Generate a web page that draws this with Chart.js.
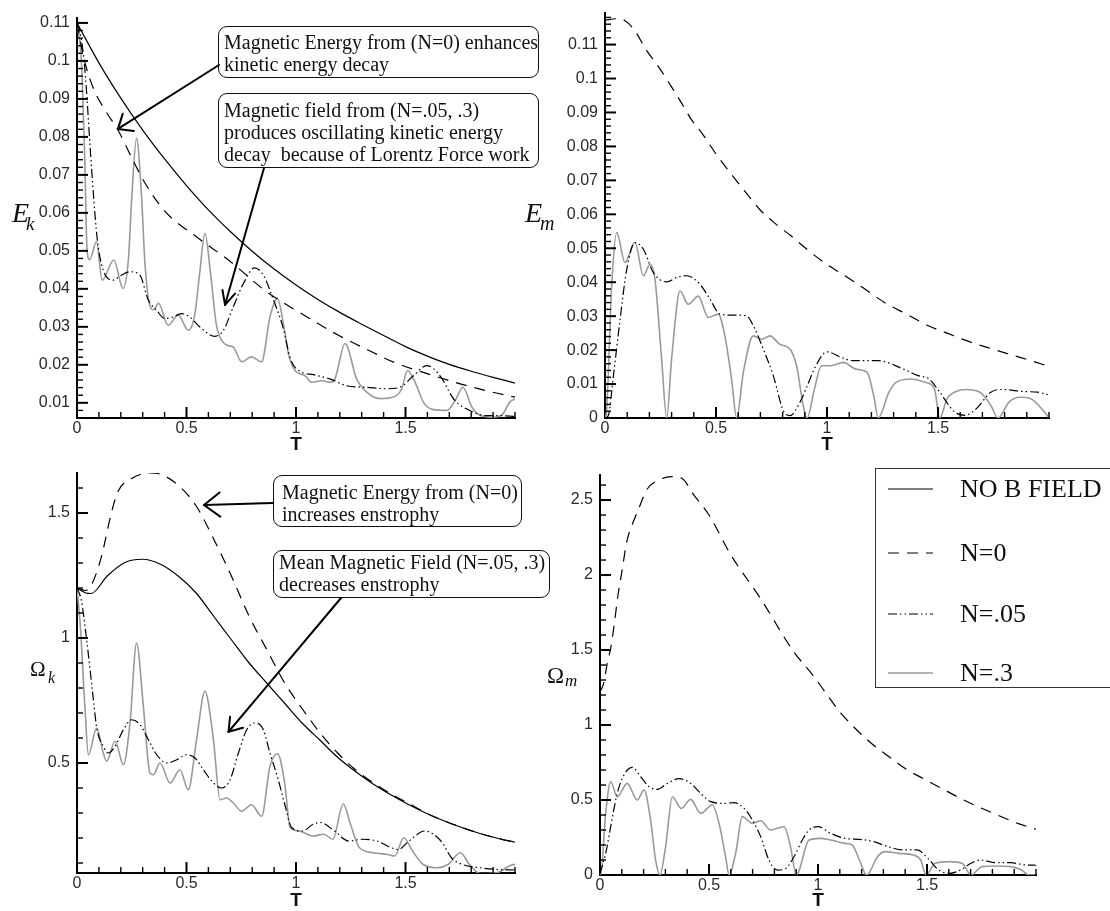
<!DOCTYPE html>
<html>
<head>
<meta charset="utf-8">
<script src="https://cdn.jsdelivr.net/npm/chart.js@4.4.0/dist/chart.umd.min.js"></script>
<style>
html, body { margin: 0; padding: 0; background: #fff; overflow: hidden; }
#page { position: relative; width: 1110px; height: 911px; overflow: hidden; }
.box { position: absolute; box-sizing: border-box; border: 1.5px solid #111; border-radius: 9px; background: #fff;
       font-family: "Liberation Serif", "Times New Roman", serif; font-size: 20px; line-height: 22px; color: #111; white-space: pre; }
.lab { position: absolute; font-family: "Liberation Serif", "Times New Roman", serif; color: #111; white-space: nowrap; line-height: 1; }
.tlab { position: absolute; font-family: "Liberation Sans", Arial, sans-serif; font-weight: bold; font-size: 19px; line-height: 1; transform: translateX(-50%); color: #111; }
#legend { position: absolute; left: 875px; top: 468px; width: 250px; height: 220px; box-sizing: border-box; border: 1.5px solid #333; background: #fff; }
#legend .row { position: absolute; left: 0; height: 30px; }
#legend .row span { position: absolute; left: 84px; top: 0; font-family: "Liberation Serif", "Times New Roman", serif; font-size: 26px; line-height: 30px; color: #111; white-space: nowrap; }
#legend .row svg { position: absolute; left: 10px; top: 0; }
#arrows { position: absolute; left: 0; top: 0; pointer-events: none; }
</style>
</head>
<body>
<div id="page">
  <canvas id="cEk"></canvas>
  <canvas id="cEm"></canvas>
  <canvas id="cOk"></canvas>
  <canvas id="cOm"></canvas>

  <!-- axis titles -->
  <div class="lab" style="left:12px;top:199px;font-size:28px;font-style:italic">E</div>
  <div class="lab" style="left:26px;top:214px;font-size:19px;font-style:italic">k</div>
  <div class="lab" style="left:525px;top:199px;font-size:28px;font-style:italic">E</div>
  <div class="lab" style="left:540px;top:213px;font-size:20px;font-style:italic">m</div>
  <div class="lab" style="left:30px;top:659px;font-size:21px">Ω</div>
  <div class="lab" style="left:48px;top:670px;font-size:16px;font-style:italic">k</div>
  <div class="lab" style="left:547px;top:664px;font-size:23px">Ω</div>
  <div class="lab" style="left:565px;top:672px;font-size:17px;font-style:italic">m</div>
  <div class="tlab" style="left:296px;top:434px">T</div>
  <div class="tlab" style="left:827px;top:434px">T</div>
  <div class="tlab" style="left:296px;top:890px">T</div>
  <div class="tlab" style="left:818px;top:890px">T</div>

  <!-- annotation boxes -->
  <div class="box" style="left:218px;top:26px;width:321px;height:52px;padding:4px 0 0 5px">Magnetic Energy from (N=0) enhances
kinetic energy decay</div>
  <div class="box" style="left:218px;top:93px;width:321px;height:75px;padding:5px 0 0 5px">Magnetic field from (N=.05, .3)
produces oscillating kinetic energy
decay  because of Lorentz Force work</div>
  <div class="box" style="left:273px;top:475px;width:249px;height:52px;padding:5px 0 0 8px">Magnetic Energy from (N=0)
increases enstrophy</div>
  <div class="box" style="left:273px;top:550px;width:277px;height:48px;padding:0 0 0 5px">Mean Magnetic Field (N=.05, .3)
decreases enstrophy</div>

  <svg id="arrows" width="1110" height="911"></svg>
  <div id="legend"></div>
</div>

<script>
// ======================
// DATA
// ======================
const seriesNames = ["NO B FIELD", "N=0", "N=.05", "N=.3"];

// tick labels
const tTicks = [0, 0.5, 1, 1.5];
const ekTicks = [0.01, 0.02, 0.03, 0.04, 0.05, 0.06, 0.07, 0.08, 0.09, 0.1, 0.11];
const emTicks = [0, 0.01, 0.02, 0.03, 0.04, 0.05, 0.06, 0.07, 0.08, 0.09, 0.1, 0.11];
const okTicks = [0.5, 1, 1.5];
const omTicks = [0, 0.5, 1, 1.5, 2, 2.5];

// kinetic energy E_k
const ekNoBT = [0, 0.1, 0.2, 0.3, 0.4, 0.5, 0.6, 0.7, 0.8, 0.9, 1.0, 1.1, 1.2, 1.3, 1.4, 1.5, 1.6, 1.7, 1.8, 1.9, 2.0];
const ekNoBV = [0.110, 0.0995, 0.0902, 0.0818, 0.0742, 0.0672, 0.0608, 0.0551, 0.0499, 0.0452, 0.0410, 0.0372, 0.0338, 0.0307, 0.0277, 0.0248, 0.0223, 0.0201, 0.0183, 0.0167, 0.0152];
const ekN0T = [0, 0.03, 0.076, 0.131, 0.19, 0.25, 0.305, 0.4, 0.55, 0.7, 0.86, 1.03, 1.2, 1.35, 1.45, 1.62, 1.73, 1.89, 2.0];
const ekN0V = [0.110, 0.1010, 0.0926, 0.0868, 0.0815, 0.0745, 0.0684, 0.0605, 0.0535, 0.0472, 0.0395, 0.0333, 0.0276, 0.0233, 0.0206, 0.0173, 0.0153, 0.0129, 0.0115];
const ekN05T = [0, 0.012, 0.035, 0.066, 0.089, 0.104, 0.134, 0.165, 0.2, 0.241, 0.287, 0.325, 0.363, 0.4, 0.439, 0.477, 0.515, 0.56, 0.63, 0.668, 0.713, 0.759, 0.81, 0.851, 0.897, 0.94, 0.975, 1.018, 1.079, 1.155, 1.231, 1.323, 1.414, 1.475, 1.536, 1.597, 1.658, 1.72, 1.796, 1.872, 1.933, 2.0];
const ekN05V = [0.110, 0.108, 0.0984, 0.0721, 0.0550, 0.0485, 0.0432, 0.0423, 0.0435, 0.0445, 0.0436, 0.0371, 0.0344, 0.0322, 0.0326, 0.0335, 0.0326, 0.0300, 0.0275, 0.0290, 0.0352, 0.0413, 0.0455, 0.0436, 0.0371, 0.0300, 0.0215, 0.0183, 0.0174, 0.0163, 0.0145, 0.0141, 0.0137, 0.0141, 0.0171, 0.0198, 0.0171, 0.0110, 0.0079, 0.0066, 0.0066, 0.0064];
const ekN3T = [0, 0.02, 0.035, 0.046, 0.058, 0.089, 0.115, 0.168, 0.21, 0.235, 0.25, 0.272, 0.295, 0.31, 0.33, 0.35, 0.372, 0.416, 0.462, 0.508, 0.538, 0.56, 0.584, 0.61, 0.635, 0.652, 0.683, 0.713, 0.752, 0.797, 0.843, 0.881, 0.915, 0.945, 0.965, 0.995, 1.04, 1.072, 1.117, 1.155, 1.178, 1.224, 1.277, 1.323, 1.384, 1.445, 1.483, 1.509, 1.544, 1.582, 1.628, 1.689, 1.727, 1.762, 1.803, 1.841, 1.9, 1.94, 1.978, 2.0];
const ekN3V = [0.110, 0.100, 0.075, 0.0502, 0.0477, 0.0524, 0.0423, 0.0476, 0.0401, 0.048, 0.064, 0.0796, 0.064, 0.047, 0.0362, 0.0345, 0.0362, 0.0304, 0.0331, 0.0291, 0.0333, 0.044, 0.0546, 0.044, 0.031, 0.0274, 0.0252, 0.0247, 0.0208, 0.0221, 0.0208, 0.0326, 0.0375, 0.030, 0.023, 0.0185, 0.0172, 0.0154, 0.0158, 0.0154, 0.0163, 0.0256, 0.0163, 0.0128, 0.0111, 0.0115, 0.0137, 0.0185, 0.0154, 0.0101, 0.0082, 0.0080, 0.0106, 0.0141, 0.0089, 0.0067, 0.0062, 0.0068, 0.0103, 0.0110];

// magnetic energy E_m
const emN0T = [0, 0.05, 0.09, 0.131, 0.185, 0.246, 0.339, 0.39, 0.439, 0.505, 0.561, 0.636, 0.7, 0.77, 0.839, 0.913, 1.0, 1.066, 1.164, 1.262, 1.361, 1.459, 1.541, 1.631, 1.721, 1.82, 1.918, 2.0];
const emN0V = [0.1172, 0.1176, 0.1170, 0.1144, 0.1085, 0.1030, 0.0934, 0.0878, 0.0837, 0.0773, 0.0725, 0.0663, 0.0612, 0.0571, 0.0536, 0.0495, 0.0452, 0.0425, 0.0383, 0.0339, 0.0305, 0.0271, 0.0250, 0.0227, 0.0208, 0.0188, 0.0169, 0.0152];
const emN05T = [0, 0.015, 0.038, 0.068, 0.098, 0.135, 0.173, 0.218, 0.278, 0.323, 0.368, 0.428, 0.473, 0.518, 0.578, 0.638, 0.668, 0.713, 0.758, 0.803, 0.833, 0.878, 0.908, 0.95, 1.0, 1.066, 1.115, 1.23, 1.344, 1.41, 1.46, 1.508, 1.574, 1.623, 1.672, 1.738, 1.787, 1.885, 1.95, 2.0];
const emN05V = [0, 0.0007, 0.0125, 0.0291, 0.0438, 0.0517, 0.0497, 0.0428, 0.0401, 0.0414, 0.0419, 0.0394, 0.0350, 0.0306, 0.0303, 0.0301, 0.0272, 0.0203, 0.0125, 0.0022, 0.0007, 0.0046, 0.0090, 0.0154, 0.0195, 0.0178, 0.0169, 0.0169, 0.0144, 0.0125, 0.0115, 0.0076, 0.0018, 0.0008, 0.0027, 0.0076, 0.0084, 0.0078, 0.0076, 0.0068];
const emN3T = [0, 0.007, 0.03, 0.053, 0.09, 0.135, 0.173, 0.203, 0.225, 0.255, 0.278, 0.30, 0.338, 0.375, 0.42, 0.465, 0.51, 0.54, 0.57, 0.593, 0.623, 0.668, 0.706, 0.743, 0.788, 0.833, 0.863, 0.893, 0.91, 0.945, 0.975, 1.016, 1.074, 1.13, 1.18, 1.213, 1.23, 1.279, 1.311, 1.377, 1.443, 1.484, 1.508, 1.541, 1.574, 1.623, 1.689, 1.738, 1.77, 1.82, 1.869, 1.918, 1.967, 2.0];
const emN3V = [0, 0.002, 0.0389, 0.0546, 0.0458, 0.0517, 0.0419, 0.0453, 0.0409, 0.0174, 0, 0.0174, 0.0374, 0.0335, 0.0359, 0.0296, 0.0306, 0.0242, 0.0115, 0, 0.0134, 0.0242, 0.0232, 0.0242, 0.0217, 0.0203, 0.0154, 0.0036, 0, 0.0090, 0.0154, 0.0154, 0.0164, 0.0144, 0.0135, 0.0057, 0, 0.0076, 0.0105, 0.0115, 0.0105, 0.0086, 0, 0.0057, 0.0076, 0.0084, 0.0076, 0.0037, 0, 0.0047, 0.0061, 0.0057, 0.0027, 0];

// kinetic enstrophy Omega_k
const okNoBT = [0, 0.04, 0.065, 0.138, 0.219, 0.30, 0.381, 0.462, 0.543, 0.624, 0.705, 0.786, 0.867, 0.949, 1.03, 1.11, 1.19, 1.273, 1.354, 1.435, 1.516, 1.597, 1.678, 1.76, 1.84, 1.92, 2.0];
const okNoBV = [1.2, 1.18, 1.178, 1.248, 1.302, 1.315, 1.295, 1.248, 1.181, 1.087, 0.993, 0.9, 0.819, 0.738, 0.658, 0.591, 0.523, 0.465, 0.415, 0.372, 0.333, 0.298, 0.268, 0.241, 0.218, 0.199, 0.183];
const okN0T = [0, 0.04, 0.07, 0.1, 0.12, 0.154, 0.186, 0.25, 0.33, 0.381, 0.462, 0.543, 0.624, 0.705, 0.786, 0.867, 0.949, 1.03, 1.11, 1.19, 1.273, 1.354, 1.435, 1.516, 1.597, 1.678, 1.76, 1.84, 1.92, 2.0];
const okN0V = [1.2, 1.19, 1.22, 1.29, 1.356, 1.49, 1.584, 1.638, 1.66, 1.655, 1.611, 1.53, 1.396, 1.248, 1.087, 0.953, 0.819, 0.715, 0.62, 0.54, 0.472, 0.42, 0.376, 0.338, 0.299, 0.268, 0.241, 0.218, 0.199, 0.183];
const okN05T = [0, 0.02, 0.044, 0.075, 0.09, 0.12, 0.143, 0.174, 0.212, 0.25, 0.288, 0.326, 0.364, 0.41, 0.455, 0.501, 0.539, 0.577, 0.623, 0.661, 0.699, 0.737, 0.775, 0.813, 0.851, 0.881, 0.919, 0.95, 0.98, 1.03, 1.078, 1.11, 1.176, 1.24, 1.305, 1.37, 1.435, 1.467, 1.516, 1.589, 1.662, 1.71, 1.76, 1.84, 1.92, 2.0];
const okN05V = [1.2, 1.15, 0.993, 0.753, 0.64, 0.567, 0.54, 0.567, 0.633, 0.673, 0.653, 0.593, 0.533, 0.5, 0.513, 0.533, 0.52, 0.473, 0.42, 0.4, 0.433, 0.54, 0.633, 0.66, 0.633, 0.54, 0.433, 0.33, 0.242, 0.228, 0.255, 0.262, 0.228, 0.188, 0.195, 0.188, 0.161, 0.154, 0.188, 0.228, 0.188, 0.121, 0.094, 0.081, 0.074, 0.072];
const okN3T = [0, 0.015, 0.036, 0.052, 0.09, 0.12, 0.135, 0.174, 0.212, 0.242, 0.272, 0.303, 0.333, 0.349, 0.379, 0.425, 0.47, 0.508, 0.546, 0.584, 0.623, 0.653, 0.683, 0.714, 0.752, 0.797, 0.843, 0.881, 0.916, 0.949, 0.973, 1.013, 1.078, 1.127, 1.168, 1.216, 1.249, 1.29, 1.354, 1.419, 1.451, 1.492, 1.532, 1.581, 1.646, 1.694, 1.751, 1.792, 1.84, 1.92, 1.978, 2.0];
const okN3V = [1.2, 1.05, 0.727, 0.533, 0.64, 0.54, 0.507, 0.587, 0.493, 0.66, 0.98, 0.727, 0.46, 0.453, 0.5, 0.42, 0.473, 0.393, 0.593, 0.787, 0.593, 0.353, 0.36, 0.34, 0.307, 0.333, 0.287, 0.487, 0.537, 0.416, 0.242, 0.228, 0.208, 0.215, 0.195, 0.336, 0.255, 0.161, 0.141, 0.134, 0.128, 0.201, 0.148, 0.094, 0.081, 0.094, 0.141, 0.094, 0.058, 0.062, 0.09, 0.095];

// magnetic enstrophy Omega_m
const omN0T = [0, 0.017, 0.033, 0.05, 0.066, 0.082, 0.1, 0.124, 0.149, 0.174, 0.215, 0.264, 0.33, 0.38, 0.425, 0.5, 0.6, 0.74, 0.888, 0.975, 1.105, 1.235, 1.32, 1.405, 1.48, 1.57, 1.655, 1.735, 1.815, 1.905, 2.0];
const omN0V = [1.22, 1.28, 1.41, 1.52, 1.68, 1.86, 2.02, 2.23, 2.34, 2.43, 2.57, 2.63, 2.656, 2.64, 2.545, 2.4, 2.135, 1.835, 1.49, 1.335, 1.08, 0.89, 0.795, 0.705, 0.645, 0.575, 0.51, 0.455, 0.405, 0.35, 0.305];
const omN05T = [0, 0.026, 0.049, 0.079, 0.11, 0.148, 0.186, 0.225, 0.263, 0.309, 0.362, 0.416, 0.462, 0.508, 0.569, 0.615, 0.661, 0.699, 0.737, 0.775, 0.814, 0.852, 0.89, 0.928, 0.959, 1.0, 1.058, 1.124, 1.19, 1.256, 1.322, 1.388, 1.455, 1.504, 1.554, 1.603, 1.653, 1.702, 1.744, 1.818, 1.884, 1.95, 2.0];
const omN05V = [0.01, 0.144, 0.322, 0.544, 0.667, 0.718, 0.656, 0.589, 0.571, 0.611, 0.642, 0.611, 0.544, 0.489, 0.478, 0.482, 0.444, 0.367, 0.256, 0.1, 0.033, 0.044, 0.122, 0.233, 0.3, 0.322, 0.278, 0.244, 0.238, 0.222, 0.189, 0.167, 0.167, 0.111, 0.033, 0.011, 0.033, 0.078, 0.1, 0.082, 0.082, 0.067, 0.065];
const omN3T = [0, 0.003, 0.026, 0.049, 0.079, 0.125, 0.171, 0.202, 0.232, 0.255, 0.275, 0.301, 0.332, 0.373, 0.416, 0.462, 0.515, 0.546, 0.576, 0.592, 0.622, 0.653, 0.699, 0.737, 0.783, 0.844, 0.874, 0.9, 0.959, 1.008, 1.058, 1.124, 1.157, 1.19, 1.223, 1.273, 1.306, 1.372, 1.438, 1.471, 1.496, 1.537, 1.603, 1.661, 1.702, 1.752, 1.818, 1.884, 1.934, 1.967, 2.0];
const omN3V = [0, 0, 0.411, 0.622, 0.522, 0.611, 0.5, 0.567, 0.367, 0.1, 0, 0.189, 0.522, 0.444, 0.504, 0.411, 0.467, 0.344, 0.122, 0, 0.144, 0.389, 0.344, 0.362, 0.3, 0.322, 0.189, 0, 0.233, 0.244, 0.233, 0.211, 0.2, 0.1, 0, 0.122, 0.156, 0.144, 0.133, 0.1, 0, 0.078, 0.089, 0.078, 0, 0.056, 0.06, 0.056, 0.033, 0, 0];

// ======================
// STYLES
// ======================
const lineStyles = [
    { borderColor: "#000", borderWidth: 1.2, borderDash: [] },
    { borderColor: "#000", borderWidth: 1.2, borderDash: [11, 8] },
    { borderColor: "#000", borderWidth: 1.2, borderDash: [9, 3, 1.5, 3, 1.5, 3] },
    { borderColor: "#9a9a9a", borderWidth: 1.6, borderDash: [] }
];
const tickFont = { family: "'Liberation Sans', Arial, sans-serif", size: 16 };
const tickColor = "#2a2a2a";
const YW = 90, PT = 20, PR = 20, XH = 40;

function series(k, ts, vs) {
    return Object.assign({
        label: seriesNames[k],
        data: ts.map((t, i) => ({ x: t, y: vs[i] })),
        pointRadius: 0,
        fill: false,
        cubicInterpolationMode: "monotone"
    }, lineStyles[k]);
}

// ======================
// INWARD TICK MARKS (major + minor)
// ======================
const innerTicks = {
    id: "innerTicks",
    afterDraw(chart, args, opts) {
        const { ctx, chartArea: a } = chart;
        ctx.save();
        ctx.strokeStyle = "#000";
        const axes = [[chart.scales.x, opts.xMinor, true], [chart.scales.y, opts.yMinor, false]];
        axes.forEach(([s, minor, horiz]) => {
            const majors = s.ticks.map(t => t.value);
            const n0 = Math.ceil(s.min / minor - 1e-6), n1 = Math.floor(s.max / minor + 1e-6);
            for (let n = n0; n <= n1; n++) {
                const v = n * minor;
                const major = majors.some(m => Math.abs(m - v) < minor * 1e-3);
                const p = s.getPixelForValue(v);
                const len = major ? 11 : 6;
                ctx.lineWidth = major ? 2 : 1.4;
                ctx.beginPath();
                if (horiz) {
                    if (p < a.left + 2) continue;
                    ctx.moveTo(p, a.bottom); ctx.lineTo(p, a.bottom - len);
                } else {
                    if (p > a.bottom - 2) continue;
                    ctx.moveTo(a.left, p); ctx.lineTo(a.left + len, p);
                }
                ctx.stroke();
            }
        });
        ctx.restore();
    }
};

function makePanel(p) {
    const [l, t, r, b] = p.area;
    const cv = document.getElementById(p.id);
    const w = r - l + YW + PR, h = b - t + PT + XH;
    cv.width = w; cv.height = h;
    cv.style.cssText = "position:absolute;left:" + (l - YW) + "px;top:" + (t - PT) + "px;width:" + w + "px;height:" + h + "px";
    const noGrid = { display: false, drawTicks: false, tickLength: 0 };
    const chart = new Chart(cv, {
        type: "line",
        data: { datasets: p.series },
        options: {
            responsive: false,
            animation: false,
            devicePixelRatio: 1,
            events: [],
            layout: { padding: { top: PT, right: PR, left: 0, bottom: 0 } },
            plugins: {
                legend: { display: false },
                tooltip: { enabled: false },
                innerTicks: { xMinor: 0.1, yMinor: p.yMinor }
            },
            scales: {
                x: {
                    type: "linear", min: 0, max: 2.0,
                    grid: noGrid,
                    border: { display: true, color: "#000", width: 2 },
                    ticks: { font: tickFont, color: tickColor, padding: 1, maxRotation: 0, autoSkip: false, callback: v => String(v) },
                    afterBuildTicks: s => { s.ticks = tTicks.map(v => ({ value: v })); },
                    afterFit: s => { s.height = XH; }
                },
                y: {
                    type: "linear", min: p.yMin, max: p.yMax,
                    grid: noGrid,
                    border: { display: true, color: "#000", width: 2 },
                    ticks: { font: tickFont, color: tickColor, padding: 7, autoSkip: false, callback: v => String(v) },
                    afterBuildTicks: s => { s.ticks = p.yTicks.map(v => ({ value: v })); },
                    afterFit: s => { s.width = YW; }
                }
            }
        },
        plugins: [innerTicks]
    });
    chart.$left = l - YW;
    chart.$top = t - PT;
    return chart;
}

// ======================
// PANELS
// ======================
const chartEk = makePanel({
    id: "cEk", area: [77, 18, 515, 418], yMin: 0.006, yMax: 0.1113, yTicks: ekTicks, yMinor: 0.002,
    series: [series(0, ekNoBT, ekNoBV), series(1, ekN0T, ekN0V), series(2, ekN05T, ekN05V), series(3, ekN3T, ekN3V)]
});
const chartEm = makePanel({
    id: "cEm", area: [605, 13, 1049, 418], yMin: 0, yMax: 0.1193, yTicks: emTicks, yMinor: 0.002,
    series: [series(1, emN0T, emN0V), series(2, emN05T, emN05V), series(3, emN3T, emN3V)]
});
const chartOk = makePanel({
    id: "cOk", area: [77, 473, 515, 873], yMin: 0.06, yMax: 1.66, yTicks: okTicks, yMinor: 0.1,
    series: [series(0, okNoBT, okNoBV), series(1, okN0T, okN0V), series(2, okN05T, okN05V), series(3, okN3T, okN3V)]
});
const chartOm = makePanel({
    id: "cOm", area: [600, 475, 1036, 875], yMin: 0, yMax: 2.667, yTicks: omTicks, yMinor: 0.1,
    series: [series(1, omN0T, omN0V), series(2, omN05T, omN05V), series(3, omN3T, omN3V)]
});

// ======================
// ARROWS (tips placed through the chart scales)
// ======================
function pagePoint(chart, t, v) {
    return [chart.$left + chart.scales.x.getPixelForValue(t), chart.$top + chart.scales.y.getPixelForValue(v)];
}
const svg = document.getElementById("arrows");
function arrow(x1, y1, tip, head, spread) {
    const [x2, y2] = tip;
    const ang = Math.atan2(y1 - y2, x1 - x2);
    const segs = [[x1, y1, x2, y2]];
    [-spread, spread].forEach(s => segs.push([x2, y2, x2 + head * Math.cos(ang + s), y2 + head * Math.sin(ang + s)]));
    segs.forEach(([a, b, c, d]) => {
        const ln = document.createElementNS("http://www.w3.org/2000/svg", "line");
        ln.setAttribute("x1", a); ln.setAttribute("y1", b); ln.setAttribute("x2", c); ln.setAttribute("y2", d);
        ln.setAttribute("stroke", "#000"); ln.setAttribute("stroke-width", "2"); ln.setAttribute("stroke-linecap", "round");
        svg.appendChild(ln);
    });
}
arrow(219, 65, pagePoint(chartEk, 0.187, 0.0821), 16, 0.7);
arrow(264, 168, pagePoint(chartEk, 0.676, 0.0358), 15, 0.45);
arrow(273, 503, pagePoint(chartOk, 0.58, 1.532), 20, 0.65);
arrow(341, 598, pagePoint(chartOk, 0.692, 0.625), 15, 0.6);

// ======================
// LEGEND (built from the datasets)
// ======================
const legend = document.getElementById("legend");
const rowTops = [5, 69, 130, 189];
chartOk.data.datasets.forEach((ds, i) => {
    const row = document.createElement("div");
    row.className = "row";
    row.style.top = rowTops[i] + "px";
    row.innerHTML = '<svg width="50" height="30"><line x1="2" y1="15" x2="47" y2="15" stroke="' + ds.borderColor +
        '" stroke-width="' + ds.borderWidth + '" stroke-dasharray="' + (ds.borderDash.length ? ds.borderDash.join(" ") : "none") +
        '"/></svg><span>' + ds.label + '</span>';
    legend.appendChild(row);
});
</script>
</body>
</html>
